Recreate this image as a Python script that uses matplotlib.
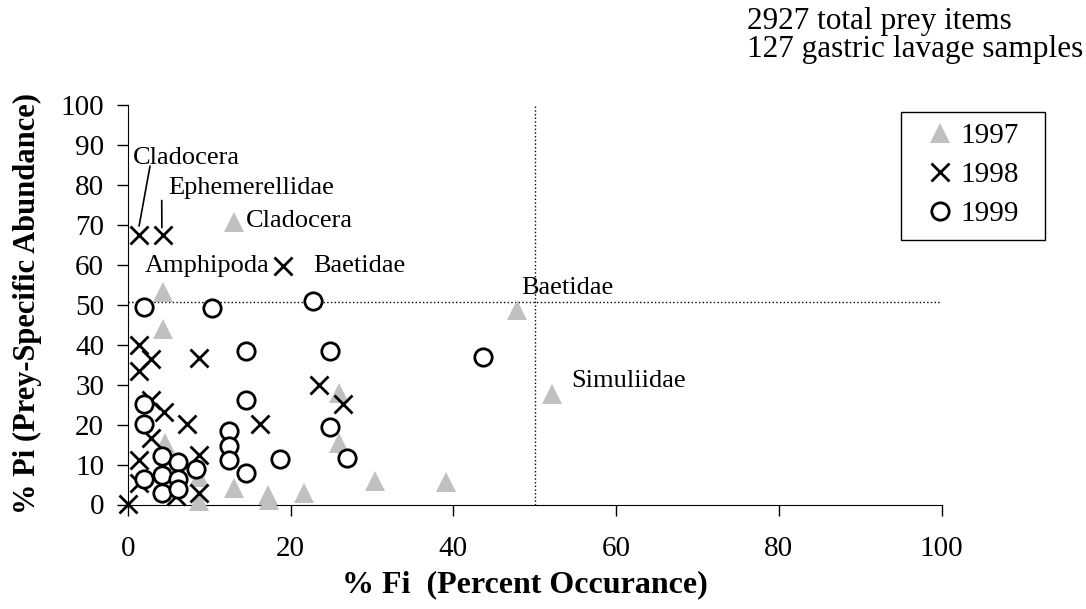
import matplotlib
matplotlib.use("Agg")
import matplotlib.pyplot as plt
from matplotlib.patches import Rectangle

plt.rcParams['font.family'] = ['Liberation Serif', 'DejaVu Serif']

# ---------- dados: % Fi (x) e % Pi (y) por ano ----------
fi_1997 = [13.0, 4.3, 4.3, 47.8, 52.1, 26.0, 4.6, 26.0, 8.7, 13.0, 8.7, 17.4, 17.2, 21.7, 30.4, 39.1]
pi_1997 = [70.8, 53.3, 44.0, 48.7, 27.7, 27.9, 15.5, 15.5, 6.9, 4.2, 0.9, 1.2, 2.4, 2.9, 5.9, 5.7]

fi_1998 = [1.4, 4.3, 19.1, 1.4, 2.9, 1.4, 8.8, 23.5, 26.5, 2.9, 4.4, 7.3, 16.2, 2.9, 1.4, 8.7, 1.4, 8.7, 5.9, 0.0]
pi_1998 = [67.5, 67.5, 59.7, 39.9, 36.3, 33.5, 36.6, 29.8, 25.1, 26.2, 23.2, 20.2, 20.2, 16.6, 11.1, 12.3, 5.4, 2.8, 2.1, 0.2]

fi_1999 = [2.0, 10.4, 22.8, 14.5, 24.9, 43.7, 2.0, 14.5, 2.0, 24.9, 12.5, 12.5, 12.5, 18.7, 27.0,
           4.2, 6.2, 8.4, 14.5, 4.2, 2.0, 6.2, 4.2, 6.2]
pi_1999 = [49.5, 49.3, 51.0, 38.4, 38.4, 37.0, 25.1, 26.2, 20.2, 19.5, 18.4, 14.7, 11.2, 11.4, 11.7,
           12.1, 10.6, 8.8, 7.8, 7.5, 6.3, 6.3, 3.0, 3.8]

# linhas de referencia
fi_ref = 50
pi_ref = 50.8

# rotulos: (texto, x, y)
rotulos = [
    ("Cladocera", 0.65, 86.7),
    ("Ephemerellidae", 4.95, 79.2),
    ("Cladocera", 14.5, 71.0),
    ("Amphipoda", 2.1, 59.7),
    ("Baetidae", 22.8, 59.7),
    ("Baetidae", 48.4, 54.3),
    ("Simuliidae", 54.5, 31.0),
]

W, H = 1086, 609
fig = plt.figure(figsize=(W / 100, H / 100), dpi=100)
x0, x1, y0, y1 = 127.7, 941.7, 105.0, 504.5
ax = fig.add_axes([x0 / W, 1 - y1 / H, (x1 - x0) / W, (y1 - y0) / H])

ax.plot(fi_1997, pi_1997, linestyle='none', marker='^', markersize=14, color='#c0c0c0',
        markeredgewidth=0, label='1997', clip_on=False, zorder=3)
ax.plot(fi_1998, pi_1998, linestyle='none', marker='x', markersize=13, color='black',
        markeredgewidth=2, label='1998', clip_on=False, zorder=4)
ax.plot(fi_1999, pi_1999, linestyle='none', marker='o', markersize=12.5, markerfacecolor='white',
        markeredgecolor='black', markeredgewidth=2, label='1999', clip_on=False, zorder=5)

ax.axhline(pi_ref, color='black', linestyle=':', linewidth=1, zorder=1)
ax.axvline(fi_ref, color='black', linestyle=':', linewidth=1, zorder=1)

for txt, tx, ty in rotulos:
    ax.text(tx, ty, txt, fontsize=19, va='center', ha='left', zorder=6)

# linhas de chamada
ax.annotate('', xy=(fi_1998[0], pi_1998[0] + 2.2), xytext=(2.74, 84.7),
            arrowprops=dict(arrowstyle='-', lw=1.2, shrinkA=0, shrinkB=0))
ax.annotate('', xy=(fi_1998[1] - 0.1, pi_1998[1] + 1.8), xytext=(4.18, 76.1),
            arrowprops=dict(arrowstyle='-', lw=1.2, shrinkA=0, shrinkB=0))

ax.set_xlim(0, 100)
ax.set_ylim(0, 100)
ax.set_xticks(range(0, 101, 20))
ax.set_yticks(range(0, 101, 10))
ax.spines['top'].set_visible(False)
ax.spines['right'].set_visible(False)
ax.tick_params(axis='both', direction='out', length=8, width=1, labelsize=21)
ax.tick_params(axis='x', pad=15)
ax.tick_params(axis='y', pad=9)

ax.set_xlabel("% Fi  (Percent Occurance)", fontsize=23, fontweight='bold')
ax.xaxis.set_label_coords((525 - x0) / (x1 - x0), (y1 - 585) / (y1 - y0))
ax.xaxis.label.set_va('center')
ax.set_ylabel("% Pi (Prey-Specific Abundance)", fontsize=22, fontweight='bold')
ax.yaxis.set_label_coords((27 - x0) / (x1 - x0), (y1 - 304) / (y1 - y0))
ax.yaxis.label.set_va('center')

fig.text(747 / W, 1 - 22 / H, "2927 total prey items", fontsize=22.5, va='center')
fig.text(747 / W, 1 - 49 / H, "127 gastric lavage samples", fontsize=22.5, va='center')

# legenda sem moldura + moldura desenhada a parte
leg = fig.legend(loc='upper left', bbox_to_anchor=(925 / W, 1 - 123 / H), fontsize=21,
                 frameon=False, handlelength=1.0, handletextpad=0.2, labelspacing=0.42,
                 borderpad=0, borderaxespad=0)
fig.patches.append(Rectangle((901 / W, 1 - 240 / H), 144 / W, 128 / H, transform=fig.transFigure,
                             fill=False, edgecolor='black', linewidth=1))

fig.savefig("out.png", dpi=100)
